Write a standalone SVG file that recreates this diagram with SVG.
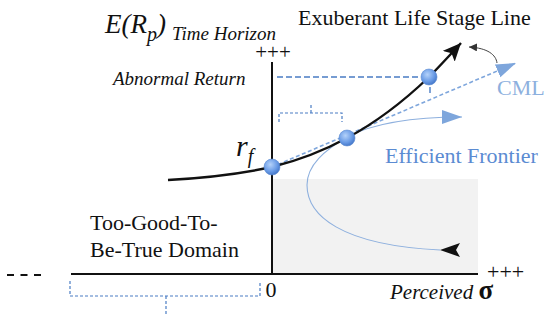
<svg xmlns="http://www.w3.org/2000/svg" width="550" height="322" viewBox="0 0 550 322">
<style>
.axis{stroke:#111;stroke-width:2;fill:none}
.dash{stroke:#4a7cc4;stroke-width:1.4;fill:none;stroke-dasharray:6,3}
.brace{stroke:#4a7cc4;stroke-width:1.2;fill:none;stroke-dasharray:3,2}
.pt{fill:url(#ball);stroke:#5a8ad0;stroke-width:0.6}
</style>
<defs>
<radialGradient id="ball" cx="0.4" cy="0.35" r="0.7">
<stop offset="0" stop-color="#b4d2fa"/>
<stop offset="0.6" stop-color="#6b9ce6"/>
<stop offset="1" stop-color="#3f72c6"/>
</radialGradient>
<marker id="ablack" markerUnits="userSpaceOnUse" markerWidth="22" markerHeight="18" refX="18" refY="8" orient="auto">
<path d="M0,0 L18,8 L0,16 L4,8 Z" fill="#111"/>
</marker>
<marker id="ablue" markerUnits="userSpaceOnUse" markerWidth="22" markerHeight="16" refX="20" refY="7" orient="auto">
<path d="M0,0 L20,7 L0,14 Z" fill="#7ea6dc"/>
</marker>
<marker id="agray" markerUnits="userSpaceOnUse" markerWidth="10" markerHeight="10" refX="8" refY="4" orient="auto">
<path d="M0,0 L8,4 L0,8 Z" fill="#333"/>
</marker>
</defs>

<rect id="domain-shade" x="273" y="179" width="205" height="95" fill="#f2f2f2"/>

<g id="axes">
<line class="axis" x1="272" y1="62" x2="272" y2="274"/>
<line class="axis" x1="71" y1="274" x2="478" y2="274"/>
<path d="M7,275 H42" stroke="#111" stroke-width="2" stroke-dasharray="7,6.5" fill="none"/>
</g>

<g id="connectors">
<path class="dash" d="M277,77 H421"/>
<path class="dash" d="M430,87 V95"/>
<path class="brace" d="M279,122 V113 H342 V122 M311,113 V103"/>
<path class="brace" d="M70,281 V296 H260 V281 M166,296 V316"/>
<path d="M272,167 L516,63" stroke="#7ea6dc" stroke-width="1.6" stroke-dasharray="4,2.5" fill="none" marker-end="url(#ablue)"/>
<path d="M440,250 C340,245 307,215 307,185 C307,165 325,150 347,137 C372,124 410,117 462,117" stroke="#8eb0de" stroke-width="1.1" fill="none" marker-end="url(#ablue)"/>
<path d="M440,250 L460,243 L456,250 L460,257 Z" fill="#111"/>
<path d="M168,180 C205,178 240,174 272,167 C300,160 325,150 347,138 C375,123 405,100 429,77 C440,66 450,55 461,43" stroke="#111" stroke-width="2.4" fill="none" marker-end="url(#ablack)"/>
<path d="M497,63 C496,55 488,48 469,47" stroke="#444" stroke-width="1" fill="none" marker-end="url(#agray)"/>
</g>

<g id="node-rf"><circle class="pt" cx="272" cy="167" r="8"/></g>
<g id="node-tangency"><circle class="pt" cx="347" cy="138" r="8"/></g>
<g id="node-abnormal"><circle class="pt" cx="429" cy="77" r="8"/></g>

<g id="labels" fill="#111">
<text x="105" y="33" font-size="27" font-family="Liberation Serif" font-style="italic">E(R<tspan font-size="20" dy="8">p</tspan><tspan font-size="27" dy="-8">)</tspan><tspan font-size="19" dy="7" x="172">Time Horizon</tspan></text>
<text x="273" y="59" font-size="21" font-family="Liberation Serif" text-anchor="middle">+++</text>
<text x="113" y="85" font-size="19" font-family="Liberation Serif" font-style="italic">Abnormal Return</text>
<text x="298" y="25" font-size="22" font-family="Liberation Serif">Exuberant Life Stage Line</text>
<text x="497" y="95" font-size="22" font-family="Liberation Serif" fill="#8db0de">CML</text>
<text x="385" y="163" font-size="22" font-family="Liberation Serif" fill="#5b8bd2">Efficient Frontier</text>
<text x="236" y="156" font-size="30" font-family="Liberation Serif" font-style="italic">r<tspan font-size="20" dy="7">f</tspan></text>
<text x="90" y="230" font-size="22" font-family="Liberation Serif">Too-Good-To-</text>
<text x="90" y="257" font-size="22" font-family="Liberation Serif">Be-True Domain</text>
<text x="271" y="297" font-size="22" font-family="Liberation Serif" text-anchor="middle">0</text>
<text x="487" y="279" font-size="22" font-family="Liberation Serif">+++</text>
<text x="390" y="299" font-size="21" font-family="Liberation Serif" font-style="italic">Perceived <tspan font-size="27" font-weight="bold" font-style="normal">σ</tspan></text>
</g>
</svg>
